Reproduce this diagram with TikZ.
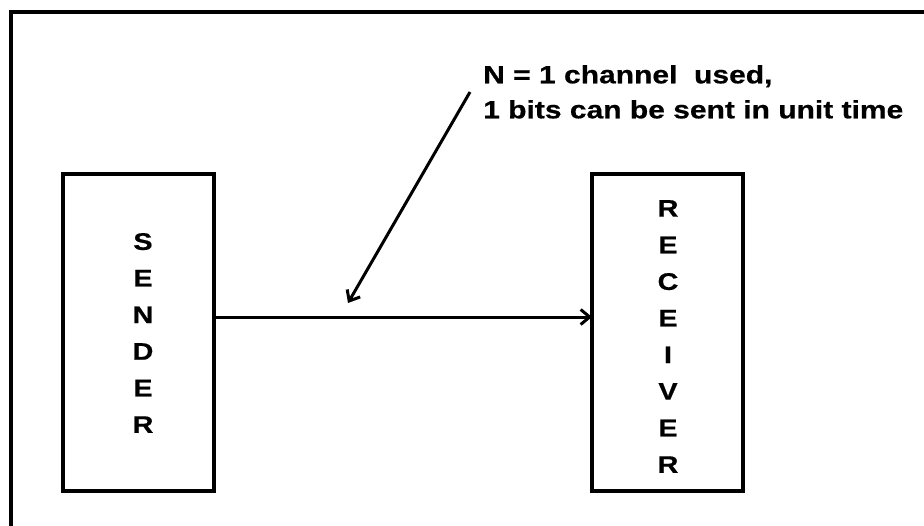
\documentclass[tikz,border=0pt]{standalone}
\usepackage{fontspec}
\setmainfont{Liberation Sans}
\newfontfamily\widefont[FakeStretch=1.2,FakeBold=0.6]{Liberation Sans}
\usetikzlibrary{arrows.meta}
\begin{document}
\begin{tikzpicture}[x=1pt,y=-1pt,
  box/.style={draw,line width=3.2pt,minimum width=151pt,minimum height=317pt,inner sep=0pt},
  letters/.style={font=\widefont\fontsize{24}{36.6}\selectfont\bfseries,align=center,inner sep=0pt},
  conn/.style={line width=3pt,-{Straight Barb[length=9pt,width=15pt,line width=3pt]}},
  lbl/.style={font=\widefont\fontsize{25}{35}\selectfont\bfseries,align=left,inner sep=0pt}]
\useasboundingbox (0,0) rectangle (924,525);
\draw[line width=3.2pt] (11,12) rectangle (940,545);
\node[box] (sender) at (138.5,332.5) {};
\node[letters] (sendertext) at (143,333) {S\\E\\N\\D\\E\\R};
\node[box] (receiver) at (667.5,332.5) {};
\node[letters] (receivertext) at (668,336.5) {R\\E\\C\\E\\I\\V\\E\\R};
\node[lbl,anchor=north west] (label) at (483,65) {N = 1 channel\ \ used,\\1 bits can be sent in unit time};
\coordinate (a) at (214,317);
\coordinate (b) at (592,317);
\draw[conn] (a) -- (b);
\coordinate (s) at (470,92);
\coordinate (t) at (348,303);
\draw[conn] (s) -- (t);
\end{tikzpicture}
\end{document}
